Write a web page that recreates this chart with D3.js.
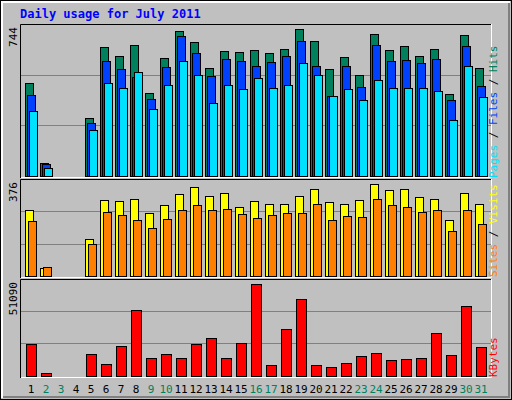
<!DOCTYPE html>
<html><head><meta charset="utf-8">
<script src="https://cdn.jsdelivr.net/npm/d3@7"></script>
<style>body{margin:0;background:#fff}svg{display:block}text{font-family:"DejaVu Sans Mono",monospace}</style>
</head><body><svg id="chart"></svg>
<script>
const days = d3.range(1, 32);
const weekends = [2, 3, 9, 10, 16, 17, 23, 24, 30, 31];
const hits = [470,64,0,0,293,653,607,663,419,597,734,678,546,632,627,637,622,643,744,683,541,602,511,719,637,658,607,643,414,714,546];
const files = [409,59,0,0,267,582,541,500,389,551,709,622,506,592,582,556,577,607,683,556,404,556,450,663,582,587,572,592,384,658,455];
const pages = [328,39,0,0,232,470,445,526,338,460,582,511,369,460,440,495,445,460,572,511,404,440,384,485,445,445,445,430,282,556,399];
const visits = [258,31,0,0,145,298,294,302,247,278,321,349,313,325,270,294,282,282,313,341,290,282,298,360,337,341,310,302,219,325,282];
const sites = [215,35,0,0,125,251,239,219,188,223,259,278,259,262,243,227,239,247,247,282,219,235,231,302,278,270,251,259,176,259,204];
const kbytes = [17530,1300,0,0,11940,6340,16410,36550,9700,11940,9700,17530,20890,9700,18090,51090,5780,25920,42710,5780,4660,6900,10820,12500,8580,9140,9700,23690,11380,38790,15850];

const W = 512, H = 400;
const svg = d3.select("#chart").attr("width", W).attr("height", H);

// frame
svg.append("rect").attr("x",0.5).attr("y",0.5).attr("width",W-1).attr("height",H-1).attr("fill","#c0c0c0").attr("stroke","#000");
svg.append("path").attr("d",`M2,${H-2}V2H${W-2}`).attr("fill","none").attr("stroke","#fff").attr("stroke-width",2);
svg.append("path").attr("d",`M3,${H-3}H${W-3}V3`).attr("fill","none").attr("stroke","#808080").attr("stroke-width",2);

svg.append("text").attr("x",20).attr("y",18).attr("fill","#0000ff").attr("font-weight","bold").attr("font-size",12).text("Daily usage for July 2011");

const x = d3.scaleBand().domain(days).range([25, 25 + 31 * 15]);

const panels = [
  {top:24, bottom:178, base:176, max:744, maxY:29.3},
  {top:179, bottom:278, base:276.3, max:376, maxY:180.3},
  {top:279, bottom:378, base:375.7, max:51090, maxY:284.3}
];
panels.forEach(p => {
  p.y = d3.scaleLinear().domain([0, p.max]).range([p.base, p.maxY]);
  const g = svg.append("g");
  g.append("rect").attr("x",21).attr("y",p.top).attr("width",470).attr("height",p.bottom-p.top).attr("fill","#c0c0c0");
  const h = p.base - p.top;
  [1/3, 2/3].forEach(f => g.append("line").attr("x1",21).attr("x2",491)
    .attr("y1",Math.round(p.base - h*f)+0.5).attr("y2",Math.round(p.base - h*f)+0.5).attr("stroke","#808080"));
  g.append("path").attr("d",`M20.5,${p.bottom}V${p.top+0.5}H491`).attr("fill","none").attr("stroke","#000");
  g.append("path").attr("d",`M21,${p.bottom-0.5}H491.5V${p.top}`).attr("fill","none").attr("stroke","#fff");
  svg.append("text").attr("transform",`translate(17,${p.top+3}) rotate(-90)`).attr("text-anchor","end")
    .attr("font-size",11).attr("fill","#000").text(p.max);
});

function bars(data, p, dx, w, color) {
  svg.append("g").selectAll("rect").data(data.map((v,i)=>({v,i}))).join("rect")
    .filter(d => d.v > 0)
    .attr("x", d => x(days[d.i]) + dx + 0.5)
    .attr("y", d => Math.round(p.y(d.v)) + 0.5)
    .attr("width", w)
    .attr("height", d => Math.round(p.base) - Math.round(p.y(d.v)))
    .attr("fill", color).attr("stroke", "#000");
}
bars(hits, panels[0], 0, 8, "#00805c");
bars(files, panels[0], 2, 8, "#0040ff");
bars(pages, panels[0], 4, 8, "#00e0ff");
bars(visits, panels[1], 0, 8, "#ffff00");
bars(sites, panels[1], 3, 8, "#ff8000");
bars(kbytes, panels[2], 1, 10, "#ff0000");

// day labels
svg.append("g").selectAll("text").data(days).join("text")
  .attr("x", d => x(d) + 6).attr("y", 393).attr("text-anchor","middle").attr("font-size",11)
  .attr("fill", d => weekends.includes(d) ? "#00805c" : "#000").text(d => d);

// right side legends
function legend(yEnd, parts) {
  const t = svg.append("text").attr("transform",`translate(497,${yEnd}) rotate(-90)`).attr("font-size",11);
  parts.forEach(([s,c]) => t.append("tspan").attr("fill",c).text(s));
}
legend(178, [["Pages","#00e0ff"],[" / ","#000"],["Files","#0040ff"],[" / ","#000"],["Hits","#00805c"]]);
legend(277, [["Sites","#ff8000"],[" / ","#000"],["Visits","#ffff00"]]);
legend(377, [["KBytes","#ff0000"]]);
</script></body></html>
